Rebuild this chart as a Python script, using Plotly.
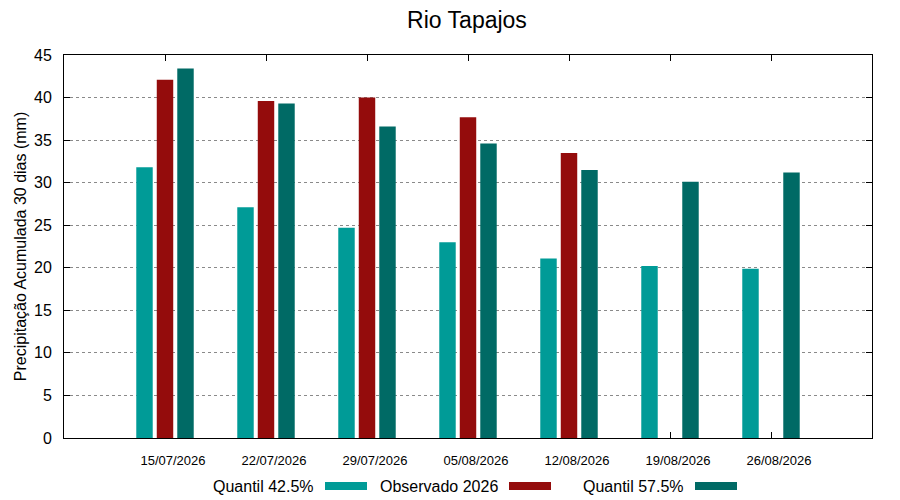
import plotly.graph_objects as go

dates = ["15/07/2026", "22/07/2026", "29/07/2026", "05/08/2026", "12/08/2026", "19/08/2026", "26/08/2026"]
quantil_425 = [31.8, 27.1, 24.7, 23.0, 21.1, 20.2, 19.9]
observado_2026 = [42.1, 39.6, 40.0, 37.7, 33.5, None, None]
quantil_575 = [43.4, 39.3, 36.6, 34.6, 31.5, 30.1, 31.2]
y_ticks = [0, 5, 10, 15, 20, 25, 30, 35, 40, 45]

series_names = ["Quantil 42.5%", "Observado 2026", "Quantil 57.5%"]
series_colors = ["#009B97", "#940C0C", "#006A65"]
series_values = [quantil_425, observado_2026, quantil_575]

xpos = list(range(1, len(dates) + 1))
FONT = "Liberation Sans, Arial, sans-serif"

# page body has an 8px margin: figure is sized/offset to compensate
OFF = 8
W, H = 900 - OFF, 500 - OFF
L, R, T, B = 64 - OFF, 28, 55 - OFF, 62
PW = W - L - R
PH = H - T - B

fig = go.Figure()
for name, color, vals in zip(series_names, series_colors, series_values):
    fig.add_trace(go.Bar(x=xpos, y=vals, name=name, marker=dict(color=color, line=dict(width=0)),
                         showlegend=False))

fig.update_layout(
    width=W, height=H,
    margin=dict(l=L, r=R, t=T, b=B, autoexpand=False),
    paper_bgcolor="white", plot_bgcolor="white",
    barmode="group", bargap=0.391, bargroupgap=0.197,
    font=dict(family=FONT, color="black"),
    title=dict(text="Rio Tapajos", x=(467 - OFF) / W, xanchor="center",
               y=1 - (20 - OFF) / H, yanchor="middle",
               font=dict(size=23, family=FONT, color="black")),
)
fig.update_xaxes(
    range=[0, 8], tickvals=xpos, ticktext=dates,
    showline=True, linecolor="black", linewidth=1, mirror="ticks",
    ticks="inside", ticklen=6, tickcolor="black", showgrid=False, zeroline=False,
    tickfont=dict(size=13, family=FONT), ticklabelstandoff=10, ticklabelshift=8,
    layer="below traces",
)
fig.update_yaxes(
    range=[0, 45], tickvals=y_ticks,
    showline=True, linecolor="black", linewidth=1, mirror="ticks",
    ticks="inside", ticklen=6, tickcolor="black",
    showgrid=True, gridcolor="#8a8a8a", griddash="dot", gridwidth=1, zeroline=False,
    tickfont=dict(size=16, family=FONT), ticklabelstandoff=8,
    title=dict(text="Precipitação Acumulada 30 dias (mm)", font=dict(size=16, family=FONT), standoff=3),
)

# gnuplot-style legend: text followed by colored swatch
legend_text_right = [316, 500, 686]
for name, color, tr in zip(series_names, series_colors, legend_text_right):
    fig.add_annotation(xref="paper", yref="paper",
                       x=(tr - 64) / PW, y=-(486 - 438) / PH,
                       text=name, showarrow=False, xanchor="right", yanchor="middle",
                       font=dict(size=16, family=FONT, color="black"))
    fig.add_shape(type="rect", xref="paper", yref="paper",
                  x0=(tr + 9 - 64) / PW, x1=(tr + 51 - 64) / PW,
                  y0=-(490 - 438) / PH, y1=-(482 - 438) / PH,
                  fillcolor=color, line=dict(width=0))

fig.write_html("out.html")
